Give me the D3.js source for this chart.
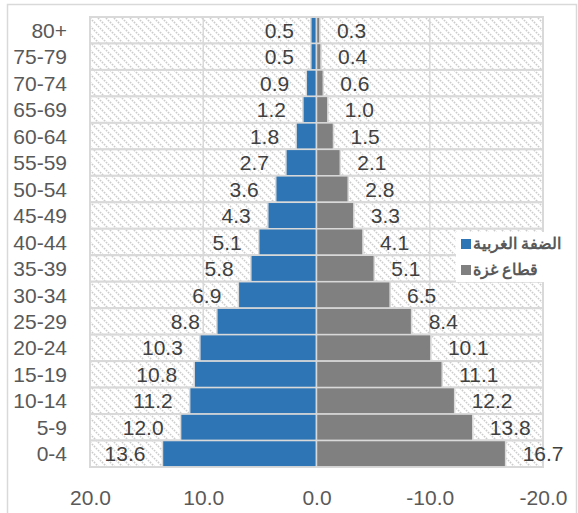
<!DOCTYPE html>
<html>
<head>
<meta charset="utf-8">
<script src="https://cdn.jsdelivr.net/npm/d3@7/dist/d3.min.js"></script>
<style>
  html, body { margin: 0; padding: 0; background: #fff; }
  svg { display: block; }
  text { font-family: "Liberation Sans", Arial, sans-serif; }
</style>
</head>
<body>
<svg id="chart" width="578" height="513"></svg>
<script>
// Age groups, top to bottom
const ageGroups = ["80+", "75-79", "70-74", "65-69", "60-64", "55-59", "50-54", "45-49",
  "40-44", "35-39", "30-34", "25-29", "20-24", "15-19", "10-14", "5-9", "0-4"];
// Share of population (%) per age group
const westBank = [0.5, 0.5, 0.9, 1.2, 1.8, 2.7, 3.6, 4.3, 5.1, 5.8, 6.9, 8.8, 10.3, 10.8, 11.2, 12.0, 13.6];
const gaza = [0.3, 0.4, 0.6, 1.0, 1.5, 2.1, 2.8, 3.3, 4.1, 5.1, 6.5, 8.4, 10.1, 11.1, 12.2, 13.8, 16.7];
const seriesNames = ["الضفة الغربية", "قطاع غزة"];
const axisTicks = [20, 10, 0, -10, -20];

const colors = { wb: "#2E75B6", gz: "#808080", grid: "#D9D9D9", text: "#595959", label: "#404040" };

const svg = d3.select("#chart");
const plot = { left: 90, right: 543, top: 17, bottom: 467 };

// Chart-area frame
svg.append("rect")
  .attr("x", 7.5).attr("y", 4.5).attr("width", 569).attr("height", 512)
  .attr("fill", "#fff").attr("stroke", colors.grid).attr("stroke-width", 1.5);

// Diagonal hatch used for the row backgrounds
const defs = svg.append("defs");
const pat = defs.append("pattern")
  .attr("id", "hatch").attr("patternUnits", "userSpaceOnUse")
  .attr("width", 8).attr("height", 8);
pat.append("rect").attr("width", 8).attr("height", 8).attr("fill", "#fff");
pat.append("path")
  .attr("d", "M0,0 L8,8 M-4,4 L4,12 M4,-4 L12,4")
  .attr("stroke", "#CCCCCC").attr("stroke-width", 1.6)
  .attr("stroke-dasharray", "1.6,1.2");

// Axis values run from 20 (left) to -20 (right); Gaza is plotted on the negative side
const x = d3.scaleLinear().domain([20, -20]).range([plot.left, plot.right]);
const y = d3.scaleBand().domain(ageGroups).range([plot.top, plot.bottom]).padding(0);

// Hatched background row for each age group
svg.append("g").selectAll("rect").data(ageGroups).join("rect")
  .attr("x", plot.left).attr("y", d => y(d))
  .attr("width", plot.right - plot.left).attr("height", y.bandwidth())
  .attr("fill", "url(#hatch)").attr("stroke", colors.grid).attr("stroke-width", 2);

// Vertical gridlines
svg.append("g").selectAll("line").data(axisTicks).join("line")
  .attr("x1", d => x(d)).attr("x2", d => x(d))
  .attr("y1", plot.top).attr("y2", plot.bottom)
  .attr("stroke", colors.grid).attr("stroke-width", 1.5);

// West Bank bars (left of zero)
svg.append("g").selectAll("rect").data(ageGroups).join("rect")
  .attr("x", (d, i) => x(westBank[i])).attr("y", d => y(d))
  .attr("width", (d, i) => x(0) - x(westBank[i])).attr("height", y.bandwidth())
  .attr("fill", colors.wb).attr("stroke", colors.grid).attr("stroke-width", 1.5);

// Gaza bars (right of zero)
svg.append("g").selectAll("rect").data(ageGroups).join("rect")
  .attr("x", x(0)).attr("y", d => y(d))
  .attr("width", (d, i) => x(-gaza[i]) - x(0)).attr("height", y.bandwidth())
  .attr("fill", colors.gz).attr("stroke", colors.grid).attr("stroke-width", 1.5);

// Outer plot border
svg.append("rect")
  .attr("x", plot.left).attr("y", plot.top)
  .attr("width", plot.right - plot.left).attr("height", plot.bottom - plot.top)
  .attr("fill", "none").attr("stroke", colors.grid).attr("stroke-width", 1.5);

const fmt = d3.format(".1f");
// Axis labels use a plain hyphen for negatives
const axisFmt = v => fmt(v).replace("\u2212", "-");
const labelSize = 21;

// Value labels
svg.append("g").selectAll("text").data(ageGroups).join("text")
  .attr("x", (d, i) => x(westBank[i]) - 17)
  .attr("y", d => y(d) + y.bandwidth() / 2)
  .attr("dy", "0.36em").attr("text-anchor", "end")
  .attr("font-size", labelSize).attr("fill", colors.label)
  .text((d, i) => fmt(westBank[i]));

svg.append("g").selectAll("text").data(ageGroups).join("text")
  .attr("x", (d, i) => x(-gaza[i]) + 17)
  .attr("y", d => y(d) + y.bandwidth() / 2)
  .attr("dy", "0.36em").attr("text-anchor", "start")
  .attr("font-size", labelSize).attr("fill", colors.label)
  .text((d, i) => fmt(gaza[i]));

// Category axis labels
svg.append("g").selectAll("text").data(ageGroups).join("text")
  .attr("x", 67)
  .attr("y", d => y(d) + y.bandwidth() / 2)
  .attr("dy", "0.36em").attr("text-anchor", "end")
  .attr("font-size", labelSize).attr("fill", colors.text)
  .text(d => d);

// Value axis labels
const xAxis = d3.axisBottom(x).tickValues(axisTicks).tickFormat(axisFmt).tickSize(0).tickPadding(0);
const gx = svg.append("g").attr("transform", `translate(0, ${plot.bottom + 23})`).call(xAxis);
gx.select(".domain").remove();
gx.selectAll("text")
  .attr("font-size", labelSize).attr("fill", colors.text)
  .attr("font-family", "Liberation Sans, Arial, sans-serif")
  .attr("dy", "0.71em");

// Legend
const legend = svg.append("g");
legend.append("rect")
  .attr("x", 456).attr("y", 232).attr("width", 112).attr("height", 50)
  .attr("fill", "#fff");
const legendItems = [
  { name: seriesNames[0], color: colors.wb, cy: 243 },
  { name: seriesNames[1], color: colors.gz, cy: 269 }
];
legendItems.forEach(item => {
  legend.append("rect")
    .attr("x", 461).attr("y", item.cy - 4).attr("width", 10).attr("height", 10)
    .attr("fill", item.color);
  legend.append("text")
    .attr("x", 473).attr("y", item.cy).attr("dy", "0.4em")
    .attr("text-anchor", "start")
    .attr("font-family", "'DejaVu Sans', 'Noto Sans', sans-serif")
    .attr("font-size", 16).attr("font-weight", "bold").attr("fill", colors.text)
    .text(item.name);
});
</script>
</body>
</html>
